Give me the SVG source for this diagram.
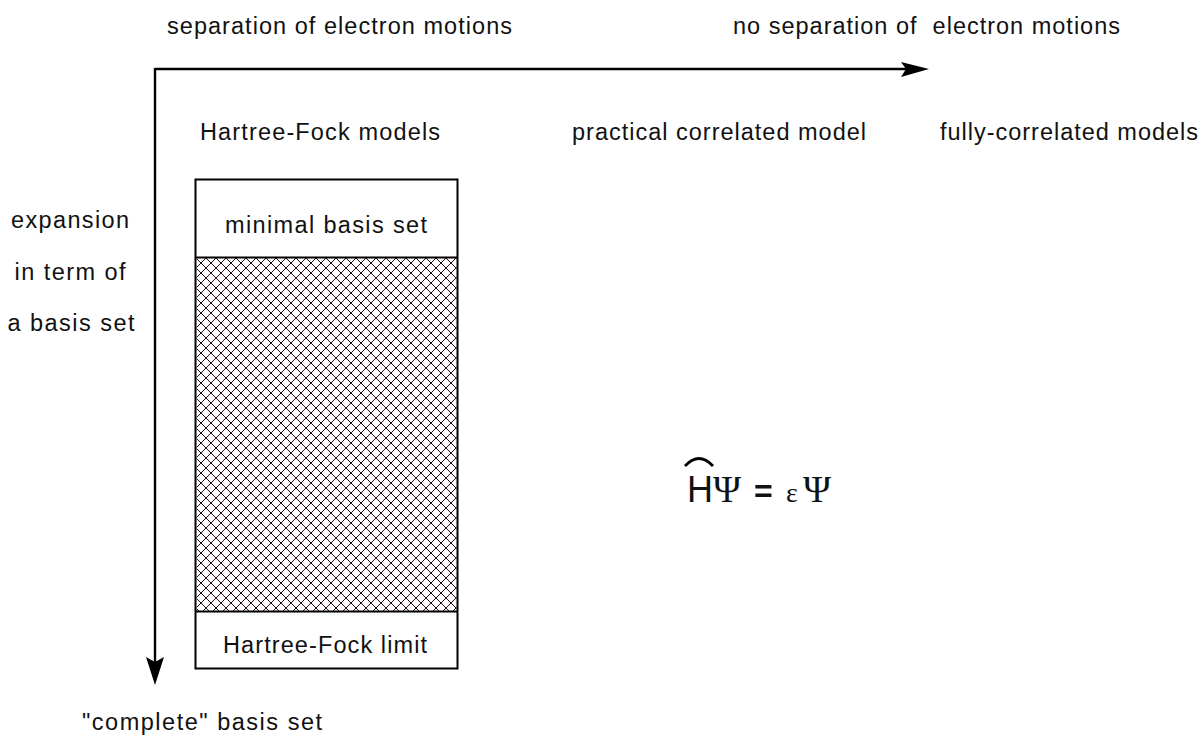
<svg xmlns="http://www.w3.org/2000/svg" width="1202" height="735" viewBox="0 0 1202 735">
  <defs>
    <pattern id="hatch" patternUnits="userSpaceOnUse" x="196" y="258" width="10" height="10">
      <path d="M0,0 L10,10 M10,0 L0,10 M-1,9 L1,11 M9,-1 L11,1 M-1,1 L1,-1 M9,11 L11,9" stroke="#2a0812" stroke-width="1" fill="none" shape-rendering="crispEdges"/>
      <g fill="#2a0812" shape-rendering="crispEdges">
        <rect x="4" y="4" width="2" height="2"/>
        <rect x="-1" y="-1" width="2" height="2"/>
        <rect x="9" y="-1" width="2" height="2"/>
        <rect x="-1" y="9" width="2" height="2"/>
        <rect x="9" y="9" width="2" height="2"/>
      </g>
    </pattern>
    <style>
      .t { font-family: "Liberation Sans", Arial, sans-serif; font-size: 23.5px; fill: #111; }
      .axis { stroke: #000; stroke-width: 2.4; fill: none; }
      .head { fill: #000; stroke: none; }
      .box { fill: #fff; stroke: #000; stroke-width: 2; }
      .div { stroke: #000; stroke-width: 2; }
      .ser { font-family: "Liberation Serif", "Times New Roman", serif; }
      .sans { font-family: "Liberation Sans", Arial, sans-serif; }
    </style>
  </defs>
  <rect width="1202" height="735" fill="#fff"/>

  <g id="connectors">
    <line class="axis" x1="155" y1="69" x2="906" y2="69"/>
    <polygon class="head" points="929,69 901,62 906,69 901,77"/>
    <line class="axis" x1="155" y1="68" x2="155" y2="662"/>
    <polygon class="head" points="155,685 146,657 155,662 164,657"/>
  </g>

  <g id="axis-labels">
    <text class="t" x="167" y="34" textLength="345" lengthAdjust="spacing">separation of electron motions</text>
    <text class="t" x="733" y="34" textLength="387" lengthAdjust="spacing" xml:space="preserve">no separation of  electron motions</text>
    <text class="t" x="70" y="228" text-anchor="middle" textLength="118" lengthAdjust="spacing">expansion</text>
    <text class="t" x="70" y="280" text-anchor="middle" textLength="111" lengthAdjust="spacing">in term of</text>
    <text class="t" x="71" y="331" text-anchor="middle" textLength="127" lengthAdjust="spacing">a basis set</text>
    <text class="t" x="82" y="730" textLength="240" lengthAdjust="spacing">"complete" basis set</text>
  </g>

  <g id="column-headers">
    <text class="t" x="200" y="140" textLength="240" lengthAdjust="spacing">Hartree-Fock models</text>
    <text class="t" x="572" y="140" textLength="294" lengthAdjust="spacing">practical correlated model</text>
    <text class="t" x="940" y="140" textLength="258" lengthAdjust="spacing">fully-correlated models</text>
  </g>

  <g id="hf-box">
    <rect class="box" x="195.5" y="179.5" width="262" height="489"/>
    <rect x="196.5" y="258" width="260" height="353" fill="url(#hatch)"/>
    <line class="div" x1="195.5" y1="257.5" x2="457.5" y2="257.5"/>
    <line class="div" x1="195.5" y1="611.5" x2="457.5" y2="611.5"/>
    <text class="t" x="225" y="233" textLength="202" lengthAdjust="spacing">minimal basis set</text>
    <text class="t" x="223" y="653" textLength="204" lengthAdjust="spacing">Hartree-Fock limit</text>
  </g>

  <g id="equation">
    <path d="M685,466 Q699,451 713,466" stroke="#000" stroke-width="2.8" fill="none"/>
    <text y="502" fill="#111"><tspan class="sans" x="687" style="font-size:36px">H</tspan><tspan class="ser" x="713" style="font-size:38px">Ψ</tspan><tspan class="sans" x="754" style="font-size:32px;font-weight:bold">=</tspan><tspan class="ser" x="786" style="font-size:28px">ε</tspan><tspan class="ser" x="803" style="font-size:38px">Ψ</tspan></text>
  </g>
</svg>
